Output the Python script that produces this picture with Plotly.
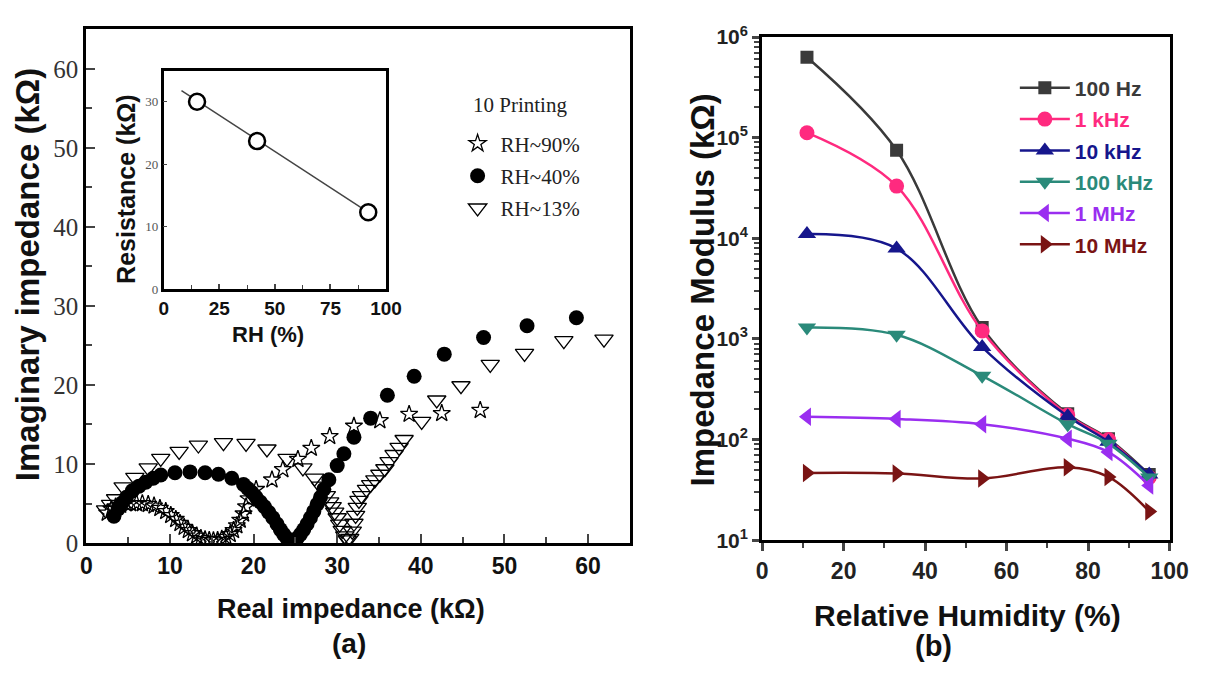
import plotly.graph_objects as go

W, H = 1217, 673

# ---------------- Panel (a): Nyquist data ----------------
rh90_x = [2.5, 3.0, 3.5, 4.1, 4.7, 5.3, 6.0, 6.7, 7.4, 8.1, 8.8, 9.5, 10.1, 10.7, 11.2, 11.7,
          12.2, 12.7, 13.2, 13.7, 14.2, 14.7, 15.2, 15.7, 16.2, 16.7, 17.2, 17.6, 18.0, 18.4,
          18.8, 19.1, 19.4, 20.3, 22.2, 23.5, 25.3, 26.9, 29.1, 32.0, 35.1, 38.6, 42.5, 47.1]
rh90_y = [3.8, 4.3, 4.6, 4.8, 5.0, 5.0, 5.0, 5.0, 4.9, 4.7, 4.4, 4.0, 3.5, 3.0, 2.5, 2.0,
          1.6, 1.2, 0.9, 0.6, 0.45, 0.35, 0.3, 0.35, 0.5, 0.75, 1.1, 1.6, 2.2, 2.9,
          3.7, 4.6, 5.6, 6.8, 8.0, 9.3, 10.6, 12.0, 13.5, 14.8, 15.5, 16.3, 16.4, 16.8]

rh40_x = [3.3, 3.8, 4.3, 4.8, 5.5, 6.3, 7.1, 8.0, 8.9, 10.6, 12.4, 14.2, 15.8, 17.4, 18.8,
          19.3, 19.8, 20.3, 20.8, 21.3, 21.8, 22.3, 22.8, 23.2, 23.6, 24.0, 24.4, 24.8,
          25.2, 25.6, 26.0, 26.4, 26.8, 27.2, 27.6, 28.0, 28.4, 29.0, 30.0, 30.8, 32.0,
          34.0, 36.0, 39.2, 42.8, 47.5, 52.7, 58.6]
rh40_y = [3.4, 4.3, 5.1, 5.8, 6.6, 7.2, 7.7, 8.2, 8.6, 8.9, 9.0, 8.9, 8.7, 8.2, 7.4,
          6.9, 6.4, 5.8, 5.2, 4.6, 3.9, 3.2, 2.4, 1.7, 1.1, 0.6, 0.3, 0.3,
          0.6, 1.1, 1.7, 2.4, 3.2, 4.0, 4.9, 5.8, 6.8, 8.0, 9.8, 11.3, 13.4,
          15.8, 18.7, 21.1, 23.9, 26.0, 27.5, 28.5]

rh13_x = [2.3, 2.9, 3.5, 4.4, 5.8, 7.4, 8.9, 11.1, 13.4, 16.4, 19.1, 21.6, 24.0, 25.9, 27.3,
          28.0, 28.7, 29.1, 29.4, 29.7, 30.0, 30.3, 30.6, 30.9, 31.2, 31.5, 31.8, 32.0,
          32.2, 32.4, 32.6, 32.9, 33.5, 34.0, 34.5, 35.1, 35.7, 36.2, 36.8, 37.4, 38.0,
          40.1, 41.9, 44.8, 48.3, 52.4, 57.1, 61.9]
rh13_y = [4.2, 4.9, 5.6, 7.1, 8.3, 9.5, 10.7, 11.6, 12.4, 12.7, 12.6, 11.9, 10.7, 9.5, 8.2,
          7.2, 6.0, 5.2, 4.6, 3.9, 3.2, 2.4, 1.6, 0.9, 0.4, 0.6, 1.5, 2.5,
          3.5, 4.5, 5.4, 6.0, 6.8, 7.4, 8.0, 8.7, 9.4, 10.3, 11.2, 12.1, 13.1,
          15.4, 18.1, 19.9, 22.6, 24.0, 25.6, 25.8]

# inset
inset_rh = [15, 42, 92]
inset_res = [30.0, 23.7, 12.3]
fit_rh = [8, 95]
fit_res = [31.8, 11.6]

# ---------------- Panel (b): impedance modulus ----------------
rh_b = [11, 33, 54, 75, 85, 95]
z_100hz = [630000, 75000, 1300, 180, 102, 45]
z_1khz = [112000, 33000, 1200, 175, 100, 42]
z_10khz = [11000, 7900, 830, 170, 95, 45]
z_100khz = [1300, 1100, 430, 142, 91, 42]
z_1mhz = [168, 160, 142, 102, 75, 35]
z_10mhz = [46.5, 46, 41, 53, 42.5, 19.3]

series_b = [
    ("100 Hz", z_100hz, "#3a3a3a", "square", 13),
    ("1 kHz", z_1khz, "#ff2a7f", "circle", 15),
    ("10 kHz", z_10khz, "#16168c", "triangle-up", 16),
    ("100 kHz", z_100khz, "#2a8a7a", "triangle-down", 16),
    ("1 MHz", z_1mhz, "#9a2ef0", "triangle-left", 16),
    ("10 MHz", z_10mhz, "#7a1414", "triangle-right", 16),
]

SANS = "Liberation Sans, Arial, sans-serif"
SERIF = "Liberation Serif, Times New Roman, serif"

fig = go.Figure()

fig.add_trace(go.Scatter(x=rh90_x, y=rh90_y, mode="markers", name="RH~90%", legendgroup="a1",
                         marker=dict(symbol="star-open", size=13, color="black", line=dict(width=1.3)),
                         xaxis="x", yaxis="y", legend="legend"))
fig.add_trace(go.Scatter(x=rh40_x, y=rh40_y, mode="markers", name="RH~40%", legendgroup="a2",
                         marker=dict(symbol="circle", size=15, color="black"),
                         xaxis="x", yaxis="y", legend="legend"))
fig.add_trace(go.Scatter(x=rh13_x, y=rh13_y, mode="markers", name="RH~13%", legendgroup="a3",
                         marker=dict(symbol="triangle-down-open", size=16, color="black", line=dict(width=1.3)),
                         xaxis="x", yaxis="y", legend="legend"))

fig.add_trace(go.Scatter(x=fit_rh, y=fit_res, mode="lines", showlegend=False,
                         line=dict(color="#444", width=1.5, dash="solid"),
                         xaxis="x2", yaxis="y2"))
fig.add_trace(go.Scatter(x=inset_rh, y=inset_res, mode="markers", showlegend=False,
                         marker=dict(symbol="circle", size=16, color="white", line=dict(color="black", width=2.5)),
                         xaxis="x2", yaxis="y2"))

for i, (name, vals, col, sym, sz) in enumerate(series_b):
    fig.add_trace(go.Scatter(x=rh_b, y=vals, mode="lines+markers", legendgroup=f"b{i}",
                             name=f"<span style='color:{col}'><b>{name}</b></span>",
                             line=dict(color=col, width=2.5, shape="spline", smoothing=1.0),
                             marker=dict(symbol=sym, size=sz, color=col),
                             xaxis="x3", yaxis="y3", legend="legend2"))

def px_x(p):
    return p / W

def px_y(p):
    return 1 - p / H

frame = dict(showline=True, linecolor="black", mirror=True, showgrid=False, zeroline=False)

fig.update_layout(
    width=W, height=H, margin=dict(l=0, r=0, t=0, b=0),
    paper_bgcolor="white", plot_bgcolor="white",
    xaxis=dict(domain=[px_x(82), px_x(637)], range=[0, 65], anchor="y",
               tickvals=[0, 10, 20, 30, 40, 50, 60], ticks="inside", ticklen=9, tickwidth=2,
               minor=dict(tickvals=[5, 15, 25, 35, 45, 55], ticks="inside", ticklen=6, tickwidth=1.5),
               tickfont=dict(family=SANS, size=23, color="#111", weight="bold"),
               linewidth=3, **frame),
    yaxis=dict(domain=[px_y(552), px_y(16)], range=[0, 65], anchor="x",
               tickvals=[0, 10, 20, 30, 40, 50, 60], ticks="inside", ticklen=9, tickwidth=2,
               minor=dict(tickvals=[5, 15, 25, 35, 45, 55], ticks="inside", ticklen=6, tickwidth=1.5),
               tickfont=dict(family=SERIF, size=25, color="#333"),
               linewidth=3, **frame),
    xaxis2=dict(domain=[px_x(161), px_x(388)], range=[0, 100], anchor="y2",
                tickvals=[0, 25, 50, 75, 100], ticks="inside", ticklen=5, tickwidth=1.5,
                minor=dict(tickvals=[12.5, 37.5, 62.5, 87.5], ticks="inside", ticklen=4, tickwidth=1),
                tickfont=dict(family=SANS, size=19, color="#111", weight="bold"),
                linewidth=2.5, **frame),
    yaxis2=dict(domain=[px_y(287), px_y(59)], range=[0, 35], anchor="x2",
                tickvals=[0, 10, 20, 30], ticks="inside", ticklen=4, tickwidth=1,
                tickfont=dict(family=SERIF, size=13, color="#555"),
                linewidth=2.5, **frame),
    xaxis3=dict(domain=[px_x(772), px_x(1188)], range=[0, 100], anchor="y3",
                tickvals=[0, 20, 40, 60, 80, 100], ticks="outside", ticklen=8, tickwidth=2.5,
                minor=dict(tickvals=[10, 30, 50, 70, 90], ticks="outside", ticklen=5, tickwidth=2),
                tickfont=dict(family=SANS, size=23, color="#222", weight="bold"),
                linewidth=3, **frame),
    yaxis3=dict(domain=[px_y(549), px_y(24)], type="log", range=[1, 6], anchor="x3",
                tickvals=[10, 100, 1000, 1e4, 1e5, 1e6],
                ticktext=["10<sup>1</sup>", "10<sup>2</sup>", "10<sup>3</sup>",
                          "10<sup>4</sup>", "10<sup>5</sup>", "10<sup>6</sup>"],
                ticks="outside", ticklen=7, tickwidth=2.5,
                minor=dict(tickvals=[m * 10 ** e for e in range(1, 6) for m in range(2, 10)],
                           ticks="outside", ticklen=5, tickwidth=1.5),
                tickfont=dict(family=SANS, size=21, color="#222", weight="bold"),
                linewidth=3, **frame),
    legend=dict(x=px_x(458), y=px_y(114), xanchor="left", yanchor="top",
                bgcolor="rgba(0,0,0,0)", tracegroupgap=2,
                font=dict(family=SERIF, size=21, color="#222"), itemwidth=36),
    legend2=dict(x=px_x(1030), y=px_y(56), xanchor="left", yanchor="top",
                 bgcolor="rgba(0,0,0,0)", tracegroupgap=1,
                 font=dict(family=SANS, size=21), itemwidth=50),
    showlegend=True,
)

ann = [
    dict(text="10 Printing", x=px_x(525), y=px_y(95), size=21, fam=SERIF, color="#222"),
    dict(text="<b>Real impedance (kΩ)</b>", x=px_x(352), y=px_y(621), size=27),
    dict(text="<b>(a)</b>", x=px_x(350), y=px_y(657), size=28),
    dict(text="<b>Imaginary impedance (kΩ)</b>", x=px_x(22), y=px_y(272), size=33, angle=-90),
    dict(text="<b>Resistance (kΩ)</b>", x=px_x(123), y=px_y(182), size=25, angle=-90),
    dict(text="<b>RH (%)</b>", x=px_x(268), y=px_y(334), size=22),
    dict(text="<b>Relative Humidity (%)</b>", x=px_x(982), y=px_y(628), size=30),
    dict(text="<b>(b)</b>", x=px_x(947), y=px_y(659), size=29),
    dict(text="<b>Impedance Modulus (kΩ)</b>", x=px_x(711), y=px_y(288), size=33, angle=-90),
]
for a in ann:
    fig.add_annotation(text=a["text"], x=a["x"], y=a["y"], xref="paper", yref="paper",
                       showarrow=False, textangle=a.get("angle", 0),
                       xanchor="center", yanchor="middle",
                       font=dict(family=a.get("fam", SANS), size=a["size"], color=a.get("color", "#111")))

fig.write_html("out.html")
